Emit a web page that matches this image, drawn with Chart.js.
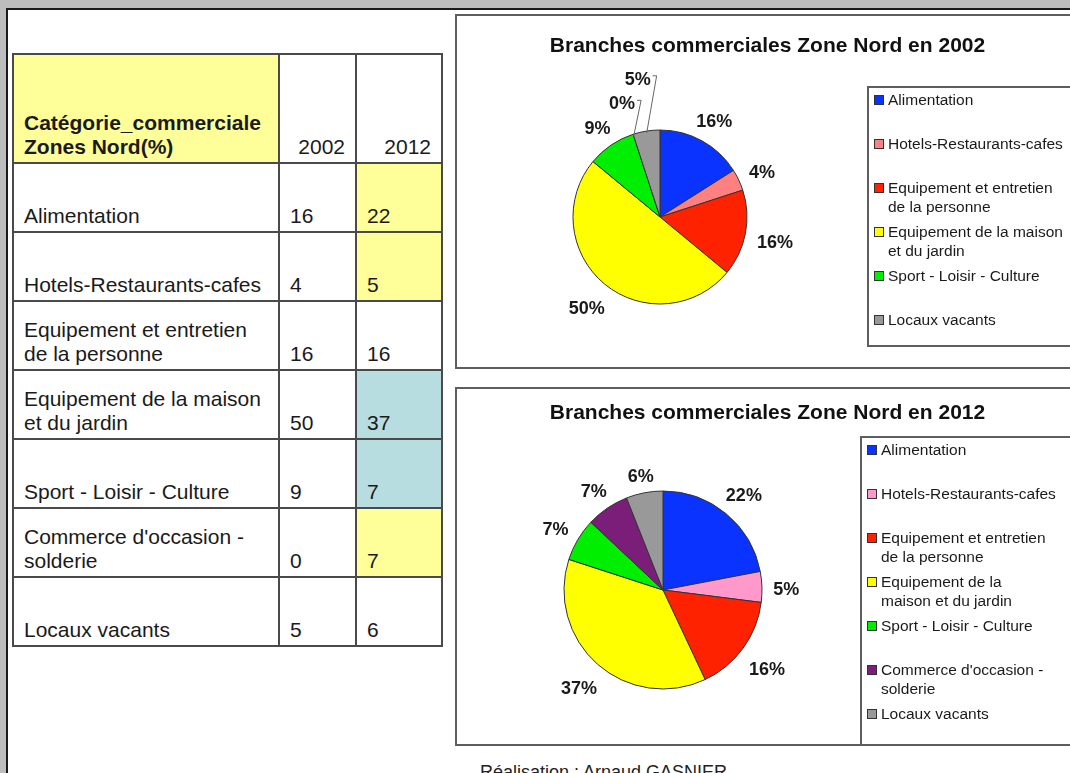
<!DOCTYPE html>
<html>
<head>
<meta charset="utf-8">
<script src="https://cdn.jsdelivr.net/npm/chart.js@4.4.1/dist/chart.umd.min.js"></script>
<style>
    body {
        margin: 0;
        width: 1070px;
        height: 773px;
        overflow: hidden;
        position: relative;
        background: #bdbdbd;
        font-family: "Liberation Sans", Arial, sans-serif;
        color: #1a1a1a;
    }
    #page {
        position: absolute;
        left: 6px;
        top: 8px;
        width: 1200px;
        height: 900px;
        background: #fff;
        border: 2px solid #1a1a1a;
        box-sizing: border-box;
    }
    #data-table {
        position: absolute;
        left: 12px;
        top: 53px;
        border-collapse: collapse;
        font-size: 21px;
    }
    #data-table td, #data-table th {
        border: 2px solid #4a4a4a;
        vertical-align: bottom;
        padding: 0 0 3px 10px;
        line-height: 24px;
        white-space: pre-line;
        text-align: left;
    }
    #data-table th {
        height: 104px;
        font-weight: normal;
    }
    #data-table th.cat {
        font-weight: bold;
        background: #ffff99;
    }
    #data-table th.year {
        text-align: right;
        padding-right: 10px;
    }
    #data-table td {
        height: 64px;
    }
    .chart-box {
        position: absolute;
        left: 455px;
        width: 625px;
        border: 2px solid #5e5e5e;
        box-sizing: border-box;
        background: #fff;
    }
    .chart-box canvas {
        position: absolute;
        left: 0;
        top: 0;
    }
    .chart-title {
        position: absolute;
        left: 0;
        width: 100%;
        text-align: center;
        font-size: 21px;
        font-weight: bold;
        line-height: 25px;
        color: #111;
    }
    .legend {
        position: absolute;
        border: 2px solid #5e5e5e;
        box-sizing: border-box;
        background: #fff;
        font-size: 15.5px;
        padding-top: 2px;
    }
    .legend .item {
        position: relative;
        height: 44px;
        line-height: 19px;
        white-space: pre-line;
        padding-left: 19px;
    }
    .legend .sw {
        position: absolute;
        left: 5px;
        top: 5px;
        width: 8px;
        height: 8px;
        border: 1px solid #333;
    }
    #caption {
        position: absolute;
        left: 480px;
        top: 762px;
        font-size: 18px;
        line-height: 20px;
        color: #222;
    }
</style>
</head>
<body>
<div id="page"></div>
<table id="data-table"></table>

<div class="chart-box" id="box2002" style="top:14px;height:355px;">
    <canvas id="chart2002" width="621" height="351"></canvas>
    <div class="chart-title" id="title2002" style="top:15.5px;"></div>
</div>
<div class="legend" id="legend2002" style="left:867px;top:86px;width:260px;height:261px;"></div>

<div class="chart-box" id="box2012" style="top:387px;height:359px;">
    <canvas id="chart2012" width="621" height="355"></canvas>
    <div class="chart-title" id="title2012" style="top:9.5px;"></div>
</div>
<div class="legend" id="legend2012" style="left:860px;top:436px;width:260px;height:310px;"></div>

<div id="caption">Réalisation : Arnaud GASNIER</div>

<script>
const headerLabel = 'Catégorie_commerciale\nZones Nord(%)';
const years = ['2002', '2012'];
const categories = [
    'Alimentation',
    'Hotels-Restaurants-cafes',
    'Equipement et entretien de la personne',
    'Equipement de la maison et du jardin',
    'Sport - Loisir - Culture',
    "Commerce d'occasion - solderie",
    'Locaux vacants'
];
const tableLabels = [
    'Alimentation',
    'Hotels-Restaurants-cafes',
    'Equipement et entretien\nde la personne',
    'Equipement de la maison\net du jardin',
    'Sport - Loisir - Culture',
    "Commerce d'occasion -\nsolderie",
    'Locaux vacants'
];
const legendLabels2002 = [
    'Alimentation',
    'Hotels-Restaurants-cafes',
    'Equipement et entretien\nde la personne',
    'Equipement de la maison\net du jardin',
    'Sport - Loisir - Culture',
    "Commerce d'occasion -\nsolderie",
    'Locaux vacants'
];
const legendLabels2012 = [
    'Alimentation',
    'Hotels-Restaurants-cafes',
    'Equipement et entretien\nde la personne',
    'Equipement de la\nmaison et du jardin',
    'Sport - Loisir - Culture',
    "Commerce d'occasion -\nsolderie",
    'Locaux vacants'
];
const values2002 = [16, 4, 16, 50, 9, 0, 5];
const values2012 = [22, 5, 16, 37, 7, 7, 6];
const titles = {
    '2002': 'Branches commerciales Zone Nord en 2002',
    '2012': 'Branches commerciales Zone Nord en 2012'
};

const colors2002 = ['#0a33ff', '#ff8080', '#ff2200', '#ffff00', '#00ee00', '#7b1e7a', '#999999'];
const colors2012 = ['#0a33ff', '#ff99cc', '#ff2200', '#ffff00', '#00ee00', '#7b1e7a', '#999999'];
const highlight2012 = ['#ffff99', '#ffff99', '', '#b8dde1', '#b8dde1', '#ffff99', ''];

Chart.defaults.font.family = '"Liberation Sans", Arial, sans-serif';

// table
function buildTable() {
    const table = document.getElementById('data-table');
    const widths = [254, 65, 74];
    const head = document.createElement('tr');
    head.innerHTML = `<th class="cat" style="width:${widths[0]}px">${headerLabel}</th>` +
        years.map((y, i) => `<th class="year" style="width:${widths[i + 1] - 10}px">${y}</th>`).join('');
    table.appendChild(head);
    tableLabels.forEach((label, i) => {
        const tr = document.createElement('tr');
        const bg = highlight2012[i] ? ` style="background:${highlight2012[i]}"` : '';
        tr.innerHTML = `<td>${label}</td><td>${values2002[i]}</td><td${bg}>${values2012[i]}</td>`;
        table.appendChild(tr);
    });
}

function buildLegend(id, labels, colors, values) {
    const el = document.getElementById(id);
    labels.forEach((label, i) => {
        if (!values[i]) return;
        const item = document.createElement('div');
        item.className = 'item';
        item.innerHTML = `<span class="sw" style="background:${colors[i]}"></span>${label}`;
        el.appendChild(item);
    });
}

// percentage labels outside the slices, pushed out when they collide
const outsideLabels = {
    id: 'outsideLabels',
    afterDatasetsDraw(chart) {
        const ctx = chart.ctx;
        const meta = chart.getDatasetMeta(0);
        const data = chart.data.datasets[0].data;
        const placed = [];
        ctx.save();
        ctx.font = 'bold 18px "Liberation Sans", Arial, sans-serif';
        ctx.textAlign = 'center';
        ctx.textBaseline = 'middle';
        meta.data.forEach((arc, i) => {
            const p = arc.getProps(['x', 'y', 'startAngle', 'endAngle', 'outerRadius'], true);
            const mid = (p.startAngle + p.endAngle) / 2;
            const dx = Math.cos(mid);
            const dy = Math.sin(mid);
            const text = data[i] + '%';
            const w = ctx.measureText(text).width;
            const h = 14;
            const base = p.outerRadius + 11 + Math.abs(dx) * w / 2 + Math.abs(dy) * h / 2;
            let d = base;
            const makeBox = () => {
                const cx = p.x + dx * d;
                const cy = p.y + dy * d + 4;
                return {cx, cy, l: cx - w / 2 - 3, r: cx + w / 2 + 3, t: cy - h / 2 - 5, b: cy + h / 2 + 5};
            };
            let box = makeBox();
            while (placed.some(q => box.l < q.r && box.r > q.l && box.t < q.b && box.b > q.t)) {
                d += 2;
                box = makeBox();
            }
            placed.push(box);
            if (d > base) {
                const sx = dx < 0 ? box.r - 1 : box.l + 1;
                const kx = dx < 0 ? sx + 4 : sx - 4;
                ctx.strokeStyle = '#666';
                ctx.lineWidth = 1;
                ctx.beginPath();
                ctx.moveTo(sx, box.cy - 4);
                ctx.lineTo(kx, box.cy - 4);
                ctx.lineTo(p.x + dx * (p.outerRadius - 2), p.y + dy * (p.outerRadius - 2));
                ctx.stroke();
            }
            ctx.fillStyle = '#1a1a1a';
            ctx.fillText(text, box.cx, box.cy);
        });
        ctx.restore();
    }
};

function createPie(canvasId, values, colors, radius, padTop, padRight) {
    const ctx = document.getElementById(canvasId).getContext('2d');
    return new Chart(ctx, {
        type: 'pie',
        data: {
            labels: categories,
            datasets: [{
                data: values,
                backgroundColor: colors,
                borderColor: '#333',
                borderWidth: 1,
                radius: radius
            }]
        },
        options: {
            responsive: false,
            animation: false,
            layout: {
                padding: {left: 0, right: padRight, top: padTop, bottom: 0}
            },
            plugins: {
                legend: {display: false},
                tooltip: {enabled: false},
                title: {display: false}
            }
        },
        plugins: [outsideLabels]
    });
}

buildTable();
buildLegend('legend2002', legendLabels2002, colors2002, values2002);
buildLegend('legend2012', legendLabels2012, colors2012, values2012);
document.getElementById('title2002').textContent = titles['2002'];
document.getElementById('title2012').textContent = titles['2012'];
createPie('chart2002', values2002, colors2002, 87, 51, 215);
createPie('chart2012', values2012, colors2012, 99, 47, 209);
</script>
</body>
</html>
